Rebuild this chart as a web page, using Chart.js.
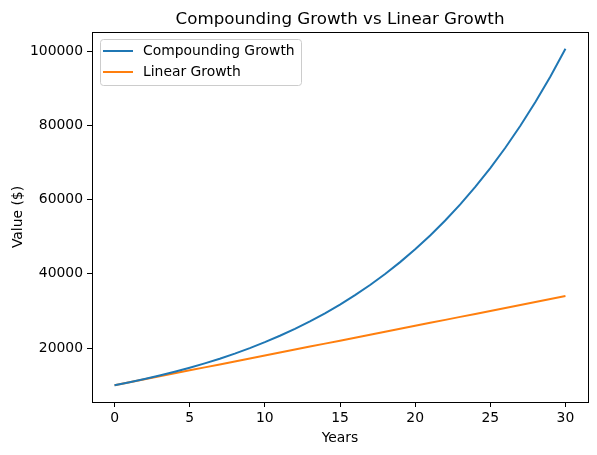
<!DOCTYPE html>
<html><head><meta charset="utf-8">
<script src="https://cdn.jsdelivr.net/npm/chart.js@4"></script>
<style>html,body{margin:0;padding:0;background:#fff}#wrap{width:597px;height:455px}</style>
</head><body><div id="wrap"><canvas id="c" width="597" height="455"></canvas></div>
<script>
const years = [0,1,2,3,4,5,6,7,8,9,10,11,12,13,14,15,16,17,18,19,20,21,22,23,24,25,26,27,28,29,30];
const compounding = [10000,10800,11664,12597,13605,14693,15869,17138,18509,19990,21589,23316,25182,27196,29372,31722,34259,37000,39960,43157,46610,50338,54365,58715,63412,68485,73964,79881,86271,93173,100627];
const linear = [10000,10800,11600,12400,13200,14000,14800,15600,16400,17200,18000,18800,19600,20400,21200,22000,22800,23600,24400,25200,26000,26800,27600,28400,29200,30000,30800,31600,32400,33200,34000];
const xTicks = [0,5,10,15,20,25,30];
const yTicks = [20000,40000,60000,80000,100000];
const seriesNames = ['Compounding Growth','Linear Growth'];
const titleText = 'Compounding Growth vs Linear Growth';
const xLabel = 'Years';
const yLabel = 'Value ($)';

const FONT = '"DejaVu Sans", sans-serif';
const extras = {
  id: 'extras',
  afterDraw(chart) {
    const ctx = chart.ctx, a = chart.chartArea;
    ctx.save();
    ctx.strokeStyle = '#000'; ctx.lineWidth = 1;
    ctx.strokeRect(Math.round(a.left)+0.5, Math.round(a.top)+0.5, Math.round(a.right-a.left), Math.round(a.bottom-a.top));
    const cx = (a.left + a.right) / 2;
    ctx.fillStyle = '#000';
    ctx.textAlign = 'center'; ctx.textBaseline = 'alphabetic';
    ctx.font = '16.7px ' + FONT;
    ctx.fillText(titleText, cx, 24);
    ctx.font = '13.9px ' + FONT;
    ctx.fillText(xLabel, cx, 442);
    ctx.save();
    ctx.translate(22, (a.top + a.bottom) / 2);
    ctx.rotate(-Math.PI / 2);
    ctx.fillText(yLabel, 0, 0);
    ctx.restore();
    // legend
    const lx = 100, ly = 39, lw = 201, lh = 46;
    ctx.fillStyle = 'rgba(255,255,255,0.8)';
    ctx.strokeStyle = '#cccccc';
    ctx.beginPath();
    if (ctx.roundRect) ctx.roundRect(lx+0.5, ly+0.5, lw, lh, 3); else ctx.rect(lx+0.5, ly+0.5, lw, lh);
    ctx.fill(); ctx.stroke();
    ctx.textAlign = 'left'; ctx.textBaseline = 'middle';
    ctx.font = '13.9px ' + FONT;
    chart.data.datasets.forEach((ds, i) => {
      const y = 51 + i * 21;
      ctx.strokeStyle = ds.borderColor; ctx.lineWidth = 2;
      ctx.beginPath(); ctx.moveTo(103, y); ctx.lineTo(133, y); ctx.stroke();
      ctx.fillStyle = '#000';
      ctx.fillText(ds.label, 143, y);
    });
    ctx.restore();
  }
};

new Chart(document.getElementById('c'), {
  type: 'line',
  data: {
    labels: years,
    datasets: [
      { label: seriesNames[0], data: years.map((x,i)=>({x, y: compounding[i]})), borderColor: '#1f77b4', backgroundColor: '#1f77b4', borderWidth: 2, pointRadius: 0, tension: 0, fill: false },
      { label: seriesNames[1], data: years.map((x,i)=>({x, y: linear[i]})), borderColor: '#ff7f0e', backgroundColor: '#ff7f0e', borderWidth: 2, pointRadius: 0, tension: 0, fill: false }
    ]
  },
  options: {
    responsive: false, animation: false, devicePixelRatio: 1,
    layout: { padding: { top: 32, right: 9, left: 0, bottom: 0 } },
    plugins: { legend: { display: false }, title: { display: false }, tooltip: { enabled: false } },
    scales: {
      x: {
        type: 'linear', min: -1.5, max: 31.5,
        afterBuildTicks: s => { s.ticks = xTicks.map(v => ({ value: v })); },
        afterFit: s => { s.height = 53; },
        grid: { display: true, drawOnChartArea: false, drawTicks: true, tickLength: 5, tickColor: '#000', color: '#000' },
        border: { display: false },
        ticks: { color: '#000', font: { family: FONT, size: 13.9 }, padding: 3, maxRotation: 0, callback: v => String(v) }
      },
      y: {
        type: 'linear', min: 5469, max: 105158,
        afterBuildTicks: s => { s.ticks = yTicks.map(v => ({ value: v })); },
        afterFit: s => { s.width = 92; },
        grid: { display: true, drawOnChartArea: false, drawTicks: true, tickLength: 5, tickColor: '#000', color: '#000' },
        border: { display: false },
        ticks: { color: '#000', font: { family: FONT, size: 13.9 }, padding: 4, callback: v => String(v) }
      }
    }
  },
  plugins: [extras]
});
</script></body></html>
